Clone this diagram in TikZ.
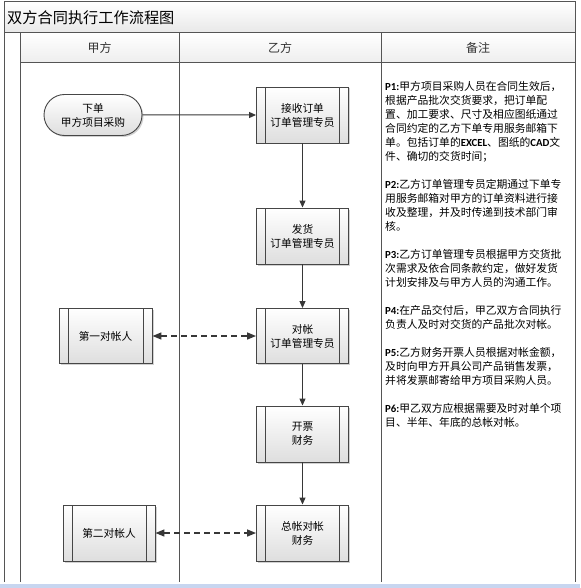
\documentclass[tikz,border=0pt]{standalone}
\usepackage{fontspec}
\setmainfont{Carlito}
\newfontfamily\cjk{Noto Sans CJK SC}
\newfontfamily\latinb{Carlito}
\usetikzlibrary{arrows.meta,shapes.misc,shadows}
\definecolor{frame}{RGB}{85,85,85}
\definecolor{boxline}{RGB}{70,70,70}
\definecolor{boxbot}{RGB}{222,222,222}
\definecolor{arr}{RGB}{55,55,55}
\definecolor{barblue}{RGB}{200,214,240}
\newcommand{\pb}[1]{{\latinb\bfseries #1}}
\newcommand{\nodefont}{\cjk\fontsize{10.7}{14}\selectfont}
\newcommand{\notefont}{\cjk\fontsize{10.8}{14}\selectfont}
\tikzset{
  lane/.style={draw=frame, line width=1pt},
  subbox/.style={draw=boxline, line width=0.9pt, top color=white, bottom color=boxbot,
    minimum width=92pt, minimum height=56pt, inner sep=1pt, align=center, font=\nodefont,
    drop shadow={shadow xshift=1.5pt, shadow yshift=-1.5pt, fill=black, opacity=0.18},
    path picture={
      \draw[boxline, line width=0.9pt] ([xshift=9pt]path picture bounding box.north west) -- ([xshift=9pt]path picture bounding box.south west);
      \draw[boxline, line width=0.9pt] ([xshift=-9pt]path picture bounding box.north east) -- ([xshift=-9pt]path picture bounding box.south east);
    }},
  term/.style={draw=boxline, line width=0.9pt, rounded rectangle, top color=white, bottom color=boxbot,
    minimum width=100pt, minimum height=41pt, inner sep=1pt, align=center, font=\nodefont,
    drop shadow={shadow xshift=1.5pt, shadow yshift=-1.5pt, fill=black, opacity=0.18}},
  flow/.style={draw=arr, line width=1pt, -{Triangle[length=7pt,width=6pt]}},
  dflow/.style={draw=arr, line width=1.4pt, dash pattern=on 6pt off 4pt, {Triangle[length=9pt,width=7pt]}-{Triangle[length=9pt,width=7pt]}},
  note/.style={anchor=north west, inner sep=0pt, align=left, font=\notefont},
  head/.style={font=\cjk\fontsize{12}{14}\selectfont, text=black!80},
}
\begin{document}
\begin{tikzpicture}[x=1pt,y=-1pt]
\useasboundingbox (0,0) rectangle (580,588);
% bands
\shade[top color=white, bottom color=black!9] (4,2) rectangle (575,33);
\shade[top color=white, bottom color=black!7] (20,33) rectangle (575,63);
\fill[barblue] (0,583.5) rectangle (580,588);
% frame and lanes
\draw[lane] (4,582) -- (4,2) -- (575,2) -- (575,582);
\draw[lane] (4,33) -- (575,33);
\draw[lane] (20,63) -- (575,63);
\draw[lane] (20,33) -- (20,582);
\draw[lane] (179,33) -- (179,582);
\draw[lane] (381,33) -- (381,582);
% title and headers
\node[anchor=west, inner sep=0pt, font=\cjk\fontsize{15.2}{17}\selectfont] (title) at (7,17.5) {双方合同执行工作流程图};
\node[head] (hA) at (99.5,48) {甲方};
\node[head] (hB) at (280,48) {乙方};
\node[head] (hC) at (478,48) {备注};
% nodes
\node[term] (start) at (93,115) {下单\\甲方项目采购};
\node[subbox] (recv) at (302.5,115) {接收订单\\订单管理专员};
\node[subbox] (ship) at (302.5,236) {发货\\订单管理专员};
\node[subbox, minimum height=55pt] (check) at (302.5,336) {对帐\\订单管理专员};
\node[subbox] (inv) at (302.5,434) {开票\\财务};
\node[subbox] (total) at (302.5,533) {总帐对帐\\财务};
\node[subbox, minimum width=93pt, minimum height=55pt] (first) at (105.5,336) {第一对帐人};
\node[subbox] (second) at (109,533) {第二对帐人};
% connectors
\draw[flow] (start) -- (recv);
\draw[flow] (recv) -- (ship);
\draw[flow] (ship) -- (check);
\draw[flow] (check) -- (inv);
\draw[flow] (inv) -- (total);
\draw[dflow] (first) -- (check);
\draw[dflow] (second) -- (total);
% notes
\node[note] (n1) at (385,81.5) {\pb{P1:}甲方项目采购人员在合同生效后，\\根据产品批次交货要求，把订单配\\置、加工要求、尺寸及相应图纸通过\\合同约定的乙方下单专用服务邮箱下\\单。包括订单的\pb{EXCEL}、图纸的\pb{CAD}文\\件、确切的交货时间；};
\node[note] (n2) at (385,179.5) {\pb{P2:}乙方订单管理专员定期通过下单专\\用服务邮箱对甲方的订单资料进行接\\收及整理，并及时传递到技术部门审\\核。};
\node[note] (n3) at (385,249.5) {\pb{P3:}乙方订单管理专员根据甲方交货批\\次需求及依合同条款约定，做好发货\\计划安排及与甲方人员的沟通工作。};
\node[note] (n4) at (385,305.5) {\pb{P4:}在产品交付后，甲乙双方合同执行\\负责人及时对交货的产品批次对帐。};
\node[note] (n5) at (385,347.5) {\pb{P5:}乙方财务开票人员根据对帐金额，\\及时向甲方开具公司产品销售发票，\\并将发票邮寄给甲方项目采购人员。};
\node[note] (n6) at (385,403.5) {\pb{P6:}甲乙双方应根据需要及时对单个项\\目、半年、年底的总帐对帐。};
\end{tikzpicture}
\end{document}
